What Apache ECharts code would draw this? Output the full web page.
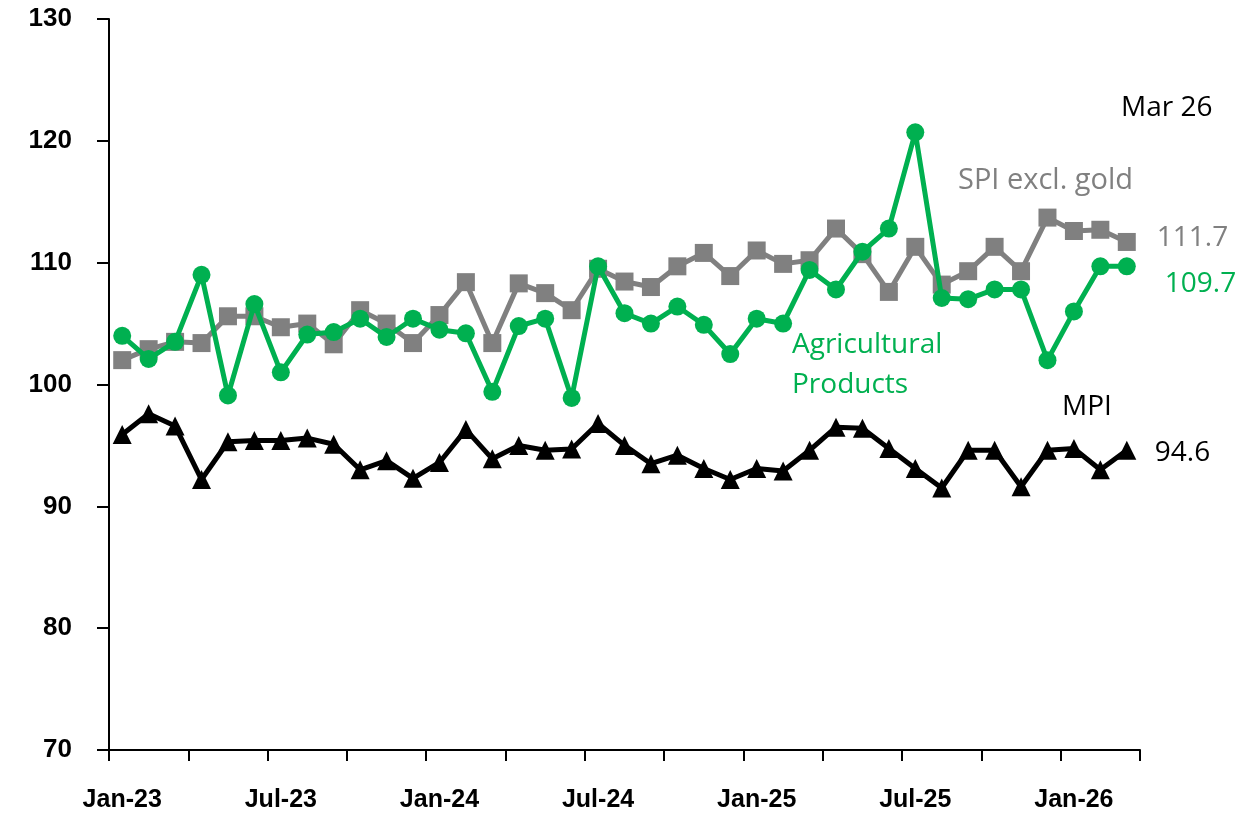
<!DOCTYPE html>
<html>
<head>
<meta charset="utf-8">
<script src="https://cdn.jsdelivr.net/npm/echarts@6/dist/echarts.min.js"></script>
<style>
  html, body { margin: 0; padding: 0; background: #fff; }
  #chart { width: 1246px; height: 816px; }
</style>
</head>
<body>
<div id="chart"></div>
<script>
const months = [
  "Jan-23", "Feb-23", "Mar-23", "Apr-23", "May-23", "Jun-23", "Jul-23", "Aug-23", "Sep-23", "Oct-23", "Nov-23", "Dec-23",
  "Jan-24", "Feb-24", "Mar-24", "Apr-24", "May-24", "Jun-24", "Jul-24", "Aug-24", "Sep-24", "Oct-24", "Nov-24", "Dec-24",
  "Jan-25", "Feb-25", "Mar-25", "Apr-25", "May-25", "Jun-25", "Jul-25", "Aug-25", "Sep-25", "Oct-25", "Nov-25", "Dec-25",
  "Jan-26", "Feb-26", "Mar-26"
];

const spiExGold = [
  102.0, 102.9, 103.5, 103.4, 105.6, 105.6, 104.7, 105.0, 103.3, 106.1, 105.0, 103.4,
  105.7, 108.4, 103.4, 108.3, 107.5, 106.1, 109.5, 108.45, 108.0, 109.7, 110.8, 108.9,
  111.0, 109.9, 110.2, 112.8, 110.7, 107.6, 111.3, 108.2, 109.3, 111.3, 109.3, 113.7,
  112.6, 112.7, 111.7
];

const agriProducts = [
  104.0, 102.1, 103.5, 109.0, 99.1, 106.6, 101.0, 104.1, 104.3, 105.4, 103.9, 105.4,
  104.5, 104.2, 99.4, 104.8, 105.4, 98.9, 109.7, 105.85, 105.0, 106.4, 104.9, 102.5,
  105.4, 105.0, 109.4, 107.8, 110.9, 112.8, 120.7, 107.1, 107.0, 107.8, 107.8, 102.0,
  106.0, 109.7, 109.7
];

const mpi = [
  95.9, 97.6, 96.6, 92.2, 95.3, 95.4, 95.4, 95.6, 95.1, 93.0, 93.75, 92.3,
  93.6, 96.3, 93.9, 95.0, 94.6, 94.7, 96.8, 95.0, 93.5, 94.2, 93.1, 92.2,
  93.1, 92.9, 94.6, 96.5, 96.4, 94.75, 93.1, 91.5, 94.6, 94.6, 91.6, 94.6,
  94.75, 93.0, 94.6
];

const GREEN = "#00B050";
const GRAY = "#808080";
const BLACK = "#000000";
const annFont = "'Open Sans', 'Noto Sans', sans-serif";
const axisFont = "'Liberation Sans', Arial, sans-serif";

const chart = echarts.init(document.getElementById("chart"), null, { renderer: "canvas" });

function lineSeries(name, data, color, symbol, size, z, labelOffset) {
  return {
    name: name,
    type: "line",
    data: data,
    z: z,
    symbol: symbol,
    symbolSize: size,
    showAllSymbol: true,
    lineStyle: { color: color, width: 5 },
    itemStyle: { color: color, borderWidth: 0 },
    endLabel: {
      show: true,
      formatter: (p) => p.value.toFixed(1),
      color: color,
      fontFamily: annFont,
      fontSize: 28,
      distance: labelOffset[0],
      offset: [0, labelOffset[1]],
    },
    animation: false,
  };
}

const option = {
  backgroundColor: "#ffffff",
  animation: false,
  grid: { left: 109, right: 106, top: 19, bottom: 66 },
  xAxis: {
    type: "category",
    data: months,
    boundaryGap: true,
    axisLine: { show: true, lineStyle: { color: BLACK, width: 2 } },
    axisTick: { show: true, interval: 2, length: 11, lineStyle: { color: BLACK, width: 2 } },
    axisLabel: {
      interval: 5,
      margin: 38,
      color: BLACK,
      fontFamily: axisFont,
      fontWeight: "bold",
      fontSize: 25,
    },
    splitLine: { show: false },
  },
  yAxis: {
    type: "value",
    min: 70,
    max: 130,
    interval: 10,
    axisLine: { show: true, lineStyle: { color: BLACK, width: 2 } },
    axisTick: { show: true, length: 12, lineStyle: { color: BLACK, width: 2 } },
    axisLabel: {
      margin: 37,
      color: BLACK,
      fontFamily: axisFont,
      fontWeight: "bold",
      fontSize: 26,
    },
    splitLine: { show: false },
  },
  series: [
    lineSeries("SPI excl. gold", spiExGold, GRAY, "rect", 18, 2, [30, -4]),
    lineSeries("MPI", mpi, BLACK, "triangle", 19, 3, [28, 3]),
    lineSeries("Agricultural Products", agriProducts, GREEN, "circle", 18, 4, [38, 18]),
  ],
  graphic: [
    {
      type: "text", left: 1121, top: 94,
      style: { text: "Mar 26", fill: BLACK, font: "28px " + annFont },
    },
    {
      type: "text", left: 958, top: 166,
      style: { text: "SPI excl. gold", fill: GRAY, font: "29px " + annFont },
    },
    {
      type: "text", left: 792, top: 325,
      style: { text: "Agricultural\nProducts", fill: GREEN, font: "28px " + annFont, lineHeight: 40 },
    },
    {
      type: "text", left: 1062, top: 393,
      style: { text: "MPI", fill: BLACK, font: "28px " + annFont },
    },
  ],
};

chart.setOption(option);
</script>
</body>
</html>
